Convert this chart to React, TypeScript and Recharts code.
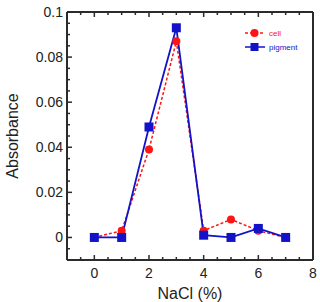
import { LineChart, Line, XAxis, YAxis, Legend } from 'recharts'

// NaCl concentration (%)
const nacl = [0, 1, 2, 3, 4, 5, 6, 7]
const cellValues = [0, 0.003, 0.039, 0.087, 0.003, 0.008, 0.003, 0]
const pigmentValues = [0, 0, 0.049, 0.093, 0.001, 0, 0.004, 0]

const xMajorTicks = [0, 2, 4, 6, 8]
const xMinorTicks = [-0.5, 0.5, 1, 1.5, 2.5, 3, 3.5, 4.5, 5, 5.5, 6.5, 7, 7.5]
const yMajorTicks = [0, 0.02, 0.04, 0.06, 0.08, 0.1]
const yMinorTicks = [
  -0.005, 0.005, 0.01, 0.015, 0.025, 0.03, 0.035, 0.045, 0.05, 0.055, 0.065, 0.07,
  0.075, 0.085, 0.09, 0.095,
]

const data = nacl.map((x, i) => ({ x, cell: cellValues[i], pigment: pigmentValues[i] }))

const RED = '#ff1414'
const BLUE = '#1212c8'
const FRAME = '#2b2b2b'
const FONT = '"Liberation Sans", Arial, sans-serif'

const xTicks = [...xMajorTicks, ...xMinorTicks].sort((a, b) => a - b)
const yTicks = [...yMajorTicks, ...yMinorTicks].sort((a, b) => a - b)

const isMajor = (list: number[], v: number) => list.some((t) => Math.abs(t - v) < 1e-9)

function BottomTick(props: any) {
  const { x, y, payload } = props
  const major = isMajor(xMajorTicks, payload.value)
  return (
    <g>
      <line x1={x} x2={x} y1={y} y2={y - (major ? 5 : 3)} stroke={FRAME} strokeWidth={1.5} />
      {major && (
        <text x={x} y={y + 18} textAnchor="middle" fontSize={14} fill="#222" fontFamily={FONT}>
          {payload.value}
        </text>
      )}
    </g>
  )
}

function TopTick(props: any) {
  const { x, y, payload } = props
  const major = isMajor(xMajorTicks, payload.value)
  return <line x1={x} x2={x} y1={y} y2={y + (major ? 5 : 3)} stroke={FRAME} strokeWidth={1.5} />
}

function LeftTick(props: any) {
  const { x, y, payload } = props
  const major = isMajor(yMajorTicks, payload.value)
  return (
    <g>
      <line x1={x} x2={x + (major ? 5 : 3)} y1={y} y2={y} stroke={FRAME} strokeWidth={1.5} />
      {major && (
        <text x={x - 4} y={y + 5} textAnchor="end" fontSize={14} fill="#222" fontFamily={FONT}>
          {String(payload.value)}
        </text>
      )}
    </g>
  )
}

function RightTick(props: any) {
  const { x, y, payload } = props
  const major = isMajor(yMajorTicks, payload.value)
  return <line x1={x} x2={x - (major ? 5 : 3)} y1={y} y2={y} stroke={FRAME} strokeWidth={1.5} />
}

function SquareDot(props: any) {
  const { cx, cy, index } = props
  return <rect key={`sq-${index}`} x={cx - 4.5} y={cy - 4.5} width={9} height={9} fill={BLUE} />
}

function CircleDot(props: any) {
  const { cx, cy, index } = props
  return <circle key={`ci-${index}`} cx={cx} cy={cy} r={4} fill={RED} />
}

function LegendBox(props: any) {
  const items = props.payload || []
  return (
    <div style={{ fontFamily: FONT, fontSize: 8 }}>
      {items.map((item: any) => {
        const blue = item.dataKey === 'pigment'
        const color = blue ? BLUE : RED
        return (
          <div key={item.dataKey} style={{ display: 'flex', alignItems: 'center', height: 14 }}>
            <svg width={22} height={10}>
              <line
                x1={1}
                x2={21}
                y1={5}
                y2={5}
                stroke={color}
                strokeWidth={1.5}
                strokeDasharray={blue ? undefined : '3 2'}
              />
              {blue ? (
                <rect x={6.5} y={1} width={8} height={8} fill={color} />
              ) : (
                <circle cx={10.5} cy={5} r={4} fill={color} />
              )}
            </svg>
            <span style={{ color, marginLeft: 3 }}>{item.value}</span>
          </div>
        )
      })}
    </div>
  )
}

export default function App() {
  return (
    <div style={{ position: 'absolute', left: 0, top: 0, width: 320, height: 302, background: '#fff' }}>
      <LineChart width={320} height={302} data={data} margin={{ top: 11, right: 6, bottom: 0, left: 0 }}>
        <XAxis
          dataKey="x"
          type="number"
          domain={[-1, 8]}
          ticks={xTicks}
          interval={0}
          tick={<BottomTick />}
          tickLine={false}
          tickSize={0}
          tickMargin={0}
          height={42}
          axisLine={{ stroke: FRAME, strokeWidth: 2 }}
          label={{
            value: 'NaCl (%)',
            position: 'insideBottom',
            offset: 3,
            style: { fontSize: 16, fill: '#222', fontFamily: FONT },
          }}
        />
        <XAxis
          xAxisId="top"
          dataKey="x"
          type="number"
          orientation="top"
          domain={[-1, 8]}
          ticks={xTicks}
          interval={0}
          tick={<TopTick />}
          tickLine={false}
          tickSize={0}
          tickMargin={0}
          height={1}
          axisLine={{ stroke: FRAME, strokeWidth: 2 }}
        />
        <YAxis
          type="number"
          domain={[-0.01, 0.1]}
          ticks={yTicks}
          interval={0}
          tick={<LeftTick />}
          tickLine={false}
          tickSize={0}
          tickMargin={0}
          width={67}
          axisLine={{ stroke: FRAME, strokeWidth: 2 }}
          label={{
            value: 'Absorbance',
            angle: -90,
            position: 'insideLeft',
            offset: 12,
            style: { textAnchor: 'middle', fontSize: 16, fill: '#222', fontFamily: FONT },
          }}
        />
        <YAxis
          yAxisId="right"
          orientation="right"
          type="number"
          domain={[-0.01, 0.1]}
          ticks={yTicks}
          interval={0}
          tick={<RightTick />}
          tickLine={false}
          tickSize={0}
          tickMargin={0}
          width={1}
          axisLine={{ stroke: FRAME, strokeWidth: 2 }}
        />
        <Legend
          layout="vertical"
          align="center"
          verticalAlign="middle"
          content={<LegendBox />}
          wrapperStyle={{ position: 'absolute', left: 244, top: 26, width: 74 }}
        />
        <Line
          dataKey="cell"
          name="cell"
          stroke={RED}
          strokeWidth={1.5}
          strokeDasharray="3 2"
          dot={<CircleDot />}
          activeDot={false}
          isAnimationActive={false}
        />
        <Line
          dataKey="pigment"
          name="pigment"
          stroke={BLUE}
          strokeWidth={1.8}
          dot={<SquareDot />}
          activeDot={false}
          isAnimationActive={false}
        />
      </LineChart>
    </div>
  )
}
